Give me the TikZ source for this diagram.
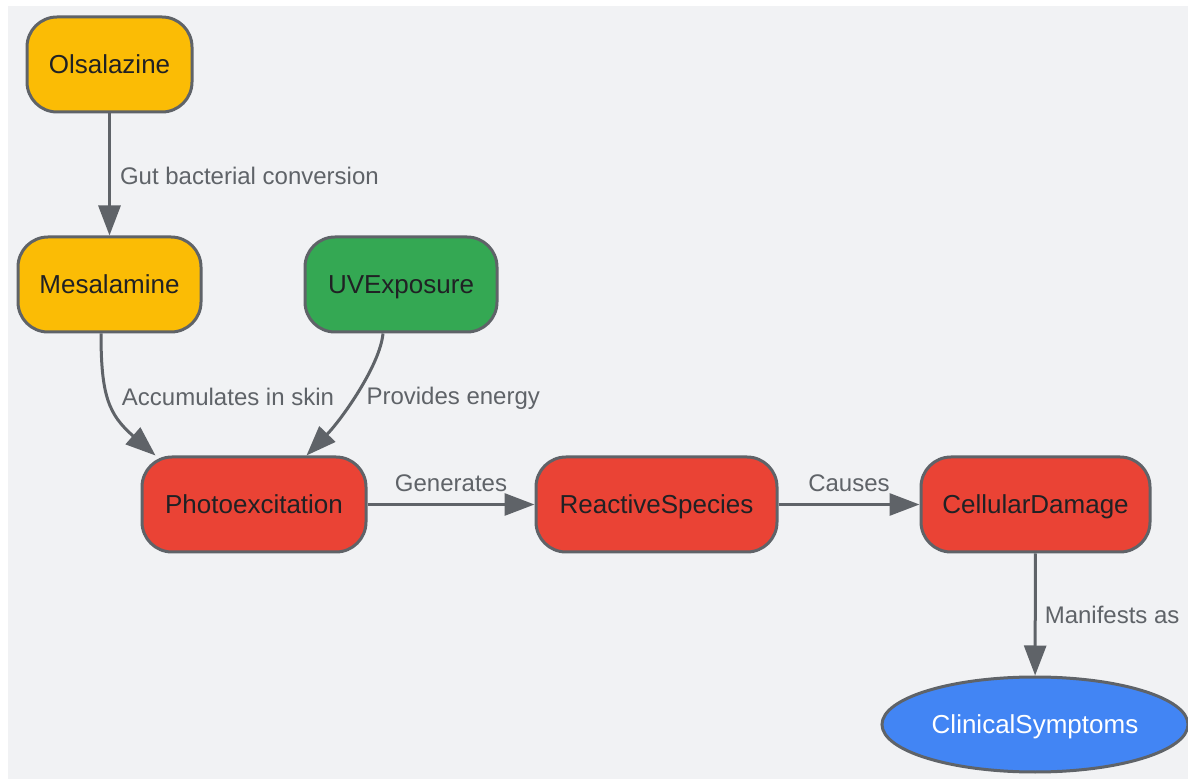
\documentclass[tikz,border=0pt]{standalone}
\usepackage{fontspec}
\setmainfont{Liberation Sans}
\usetikzlibrary{arrows.meta,shapes.geometric}

\definecolor{bggrey}{HTML}{F1F2F4}
\definecolor{edgegrey}{HTML}{5F6368}
\definecolor{inkdark}{HTML}{202124}
\definecolor{drugyellow}{HTML}{FBBC05}
\definecolor{uvgreen}{HTML}{34A853}
\definecolor{harmred}{HTML}{EA4335}
\definecolor{symblue}{HTML}{4285F4}

\begin{document}
\begin{tikzpicture}[x=0.5pt,y=-0.5pt,
  box/.style={draw=edgegrey, line width=1.5pt, rounded corners=15pt, minimum height=47.5pt,
    inner sep=0pt, text height=9.4pt, text depth=0pt, font=\fontsize{13}{15}\selectfont, text=inkdark},
  drug/.style={box, fill=drugyellow},
  uvbox/.style={box, fill=uvgreen},
  harm/.style={box, fill=harmred},
  symptom/.style={ellipse, draw=edgegrey, line width=1.5pt, fill=symblue, minimum width=153pt,
    minimum height=47.5pt, inner sep=0pt, text height=9.4pt, text depth=0pt,
    font=\fontsize{13}{15}\selectfont, text=white},
  link/.style={draw=edgegrey, line width=1.5pt, -{Triangle[length=15pt,width=11pt]}},
  lbl/.style={inner sep=0pt, text height=8.6pt, text depth=0pt, font=\fontsize{12}{14}\selectfont, text=edgegrey}]
\useasboundingbox (0,0) rectangle (1188,779);
\fill[bggrey] (8,6) rectangle (1188,779);

% nodes
\node[drug, minimum width=82.5pt] (ols) at (109.5,64.5) {Olsalazine};
\node[drug, minimum width=91.5pt] (mes) at (109.5,284.5) {Mesalamine};
\node[uvbox, minimum width=96pt] (uv) at (401,284.5) {UVExposure};
\node[harm, minimum width=112pt] (photo) at (254,504.5) {Photoexcitation};
\node[harm, minimum width=120.5pt] (react) at (656.5,504.5) {ReactiveSpecies};
\node[harm, minimum width=114.5pt] (dmg) at (1035.5,504.5) {CellularDamage};
\node[symptom] (clin) at (1035,724.5) {ClinicalSymptoms};

% edges
\draw[link] (ols) -- (mes) node[lbl, midway, anchor=west, xshift=4.5pt, yshift=-0.75pt] {Gut bacterial conversion};
\draw[link] ([xshift=-4.25pt]mes.south) .. controls +(0,62) and +(-47,-41) .. ([xshift=7.5pt]photo.north west)
  node[lbl, pos=0.45, anchor=west, xshift=6pt] {Accumulates in skin};
\draw[link] ([xshift=-9pt]uv.south) .. controls +(-3,32) and +(35,-36) .. ([xshift=-30.5pt]photo.north east)
  node[lbl, pos=0.52, anchor=west, xshift=5pt] {Provides energy};
\draw[link] (photo) -- (react) node[lbl, midway, anchor=south, yshift=5.5pt] {Generates};
\draw[link] (react) -- (dmg) node[lbl, midway, anchor=south, yshift=5.5pt] {Causes};
\draw[link] (dmg) -- (clin) node[lbl, midway, anchor=west, xshift=4pt] {Manifests as};

\end{tikzpicture}
\end{document}
